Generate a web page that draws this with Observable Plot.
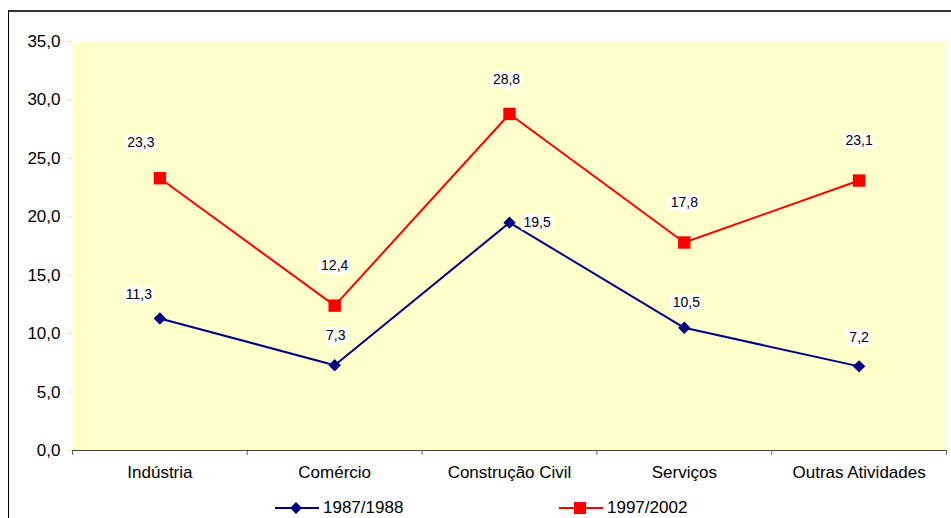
<!DOCTYPE html>
<html>
<head>
<meta charset="utf-8">
<script src="https://cdn.jsdelivr.net/npm/d3@7"></script>
<script src="https://cdn.jsdelivr.net/npm/@observablehq/plot@0.6"></script>
<style>
  html, body { margin: 0; padding: 0; background: #fff; overflow: hidden; width: 951px; height: 518px; }
  body { font-family: "Liberation Sans", Arial, sans-serif; }
  #box { position: absolute; left: 8px; top: 10px; width: 980px; height: 560px;
         border-left: 1px solid #000; border-top: 2px solid #333; box-sizing: border-box; }
  #chart { position: absolute; left: 0; top: 0; }
  #legend { position: absolute; top: 496px; left: 0; width: 951px; height: 24px; font-size: 17px; color: #000; }
  .item { position: absolute; top: 0; display: flex; align-items: center; height: 24px; }
  .item svg { margin-right: 4px; }
</style>
</head>
<body>
<div id="box"><div id="chart"></div></div>
<div id="legend"></div>
<script>
const categories = ["Indústria", "Comércio", "Construção Civil", "Serviços", "Outras Atividades"];
const series1Name = "1987/1988";
const series2Name = "1997/2002";
const series1 = [11.3, 7.3, 19.5, 10.5, 7.2];
const series2 = [23.3, 12.4, 28.8, 17.8, 23.1];
const yTicks = [0, 5, 10, 15, 20, 25, 30, 35];

const blue = "#000080";
const red = "#ff0000";
const fmt = v => v.toFixed(1).replace(".", ",");

const rows1 = categories.map((c, i) => ({i, pos: i + 0.5, cat: c, v: series1[i]}));
const rows2 = categories.map((c, i) => ({i, pos: i + 0.5, cat: c, v: series2[i]}));

const font = "Liberation Sans, Arial, sans-serif";
const labelStyle = {fill: "#000", stroke: "#fff", strokeWidth: 6, strokeLinejoin: "miter", fontSize: 14, fontFamily: font};

const plot = Plot.plot({
  width: 942,
  height: 478,
  marginLeft: 63,
  marginRight: 5,
  marginTop: 29,
  marginBottom: 40,
  style: {fontFamily: font, fontSize: "17px", color: "#000", background: "transparent"},
  x: {type: "linear", domain: [0, categories.length]},
  y: {domain: [0, 35]},
  marks: [
    Plot.frame({fill: "#ffffcc", stroke: null}),
    Plot.axisY({ticks: yTicks, tickFormat: fmt, tickSize: 5, tickPadding: 7, stroke: "#e6e6b0", label: null, fontSize: 17}),
    Plot.axisX({ticks: d3.range(categories.length + 1), tickSize: 5, tickFormat: () => "", stroke: "#666", label: null}),
    Plot.axisX({ticks: categories.map((c, i) => i + 0.5), tickSize: 0, tickPadding: 15, tickFormat: d => categories[Math.floor(d)], label: null, fontSize: 17}),
    Plot.ruleY([0], {stroke: "#444", strokeWidth: 1}),
    Plot.line(rows1, {x: "pos", y: "v", stroke: blue, strokeWidth: 2}),
    Plot.line(rows2, {x: "pos", y: "v", stroke: red, strokeWidth: 2}),
    Plot.dot(rows1, {x: "pos", y: "v", symbol: "diamond2", r: 5.6, fill: blue, stroke: null}),
    Plot.dot(rows2, {x: "pos", y: "v", symbol: "square", r: 7, fill: red, stroke: null}),
    // red labels
    Plot.text(rows2.filter(d => d.i === 0), {x: "pos", y: "v", text: d => fmt(d.v), dx: -19, dy: -36, ...labelStyle, paintOrder: "stroke"}),
    Plot.text(rows2.filter(d => d.i === 2), {x: "pos", y: "v", text: d => fmt(d.v), dx: -3, dy: -34, ...labelStyle, paintOrder: "stroke"}),
    Plot.text(rows2.filter(d => d.i === 1 || d.i === 3 || d.i === 4), {x: "pos", y: "v", text: d => fmt(d.v), dx: 0, dy: -40, ...labelStyle, paintOrder: "stroke"}),
    // blue labels
    Plot.text(rows1.filter(d => d.i === 0), {x: "pos", y: "v", text: d => fmt(d.v), dx: -21, dy: -24, ...labelStyle, paintOrder: "stroke"}),
    Plot.text(rows1.filter(d => d.i === 1), {x: "pos", y: "v", text: d => fmt(d.v), dx: 1, dy: -30, ...labelStyle, paintOrder: "stroke"}),
    Plot.text(rows1.filter(d => d.i === 2), {x: "pos", y: "v", text: d => fmt(d.v), dx: 14, dy: 0, textAnchor: "start", ...labelStyle, paintOrder: "stroke"}),
    Plot.text(rows1.filter(d => d.i === 3), {x: "pos", y: "v", text: d => fmt(d.v), dx: 2, dy: -25, ...labelStyle, paintOrder: "stroke"}),
    Plot.text(rows1.filter(d => d.i === 4), {x: "pos", y: "v", text: d => fmt(d.v), dx: 0, dy: -29, ...labelStyle, paintOrder: "stroke"})
  ]
});
document.getElementById("chart").appendChild(plot);

// legend
const legend = document.getElementById("legend");
function addItem(left, color, shape, name) {
  const div = document.createElement("div");
  div.className = "item";
  div.style.left = left + "px";
  const sym = shape === "diamond"
    ? `<path d="M21,6 L27,12 L21,18 L15,12 Z" fill="${color}"/>`
    : `<rect x="15" y="6" width="12" height="12" fill="${color}"/>`;
  div.innerHTML = `<svg width="44" height="24"><line x1="0" x2="44" y1="12" y2="12" stroke="${color}" stroke-width="2"/>${sym}</svg><span>${name}</span>`;
  legend.appendChild(div);
}
addItem(275, blue, "diamond", series1Name);
addItem(559, red, "square", series2Name);
</script>
</body>
</html>
